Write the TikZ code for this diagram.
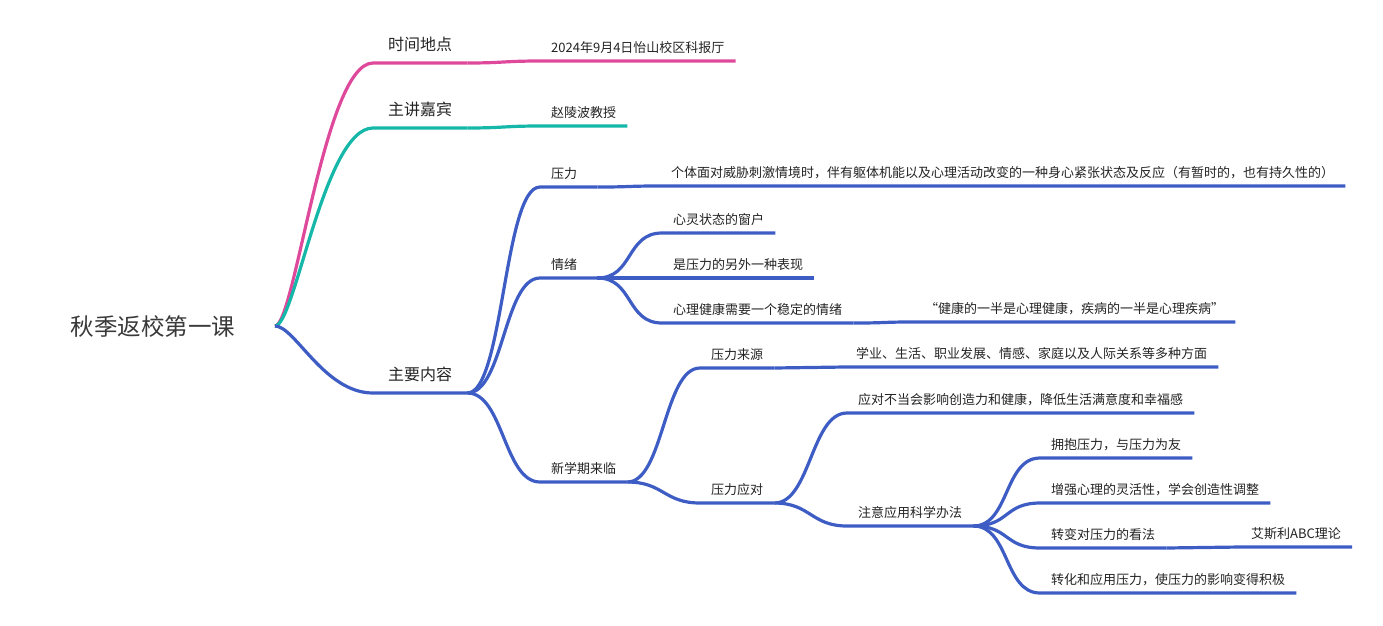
\documentclass[tikz,border=0pt]{standalone}
\usepackage{fontspec}
\newfontfamily\cjk{Noto Sans CJK SC}
\definecolor{pk}{RGB}{222,73,155}
\definecolor{tl}{RGB}{20,183,168}
\definecolor{bl}{RGB}{62,93,196}
\definecolor{txt}{RGB}{35,35,35}
\begin{document}
\begin{tikzpicture}[x=1pt,y=-1pt,
  every node/.style={text=txt,font=\cjk\fontsize{13}{15}\selectfont},
  rootnode/.style={font=\cjk\fontsize{23.5}{27}\selectfont,text=txt!90},
  big/.style={anchor=south west,inner xsep=15pt,inner ysep=9pt,text depth=3pt,font=\cjk\fontsize{16}{19}\selectfont},
  small/.style={anchor=south west,inner xsep=11pt,inner ysep=6pt,text depth=2.5pt},
  short/.style={small,text width=35pt},
  branch/.style={line width=3.2pt,line join=round}]
  \useasboundingbox (0,0) rectangle (1383,625);
  % root
  \node[rootnode] (root) at (153,327) {秋季返校第一课};
  \coordinate (r) at (275,326);
  % first level
  \node[big] (tjdd) at (373,63) {时间地点};
  \node[big] (zjjb) at (373,128) {主讲嘉宾};
  \node[big] (zynr) at (373,393) {主要内容};
  \node[small] (sj) at (540,61) {2024年9月4日怡山校区科报厅};
  \node[small] (zlb) at (540,126) {赵陵波教授};
  % main content
  \node[short] (yl) at (540,187) {压力};
  \node[small] (yldef) at (660,186) {个体面对威胁刺激情境时，伴有躯体机能以及心理活动改变的一种身心紧张状态及反应（有暂时的，也有持久性的）};
  \node[short] (qx) at (540,278) {情绪};
  \node[small] (qx1) at (662,233) {心灵状态的窗户};
  \node[small] (qx2) at (662,278) {是压力的另外一种表现};
  \node[small] (qx3) at (662,323) {心理健康需要一个稳定的情绪};
  \node[small] (qx3a) at (914,322) {“健康的一半是心理健康，疾病的一半是心理疾病”};
  \node[small] (xxq) at (540,482) {新学期来临};
  \node[small] (ylly) at (700,368) {压力来源};
  \node[small] (ylly1) at (845,367) {学业、生活、职业发展、情感、家庭以及人际关系等多种方面};
  \node[small] (yldd) at (700,503) {压力应对};
  \node[small] (yldd1) at (847,413) {应对不当会影响创造力和健康，降低生活满意度和幸福感};
  \node[small] (yldd2) at (847,526) {注意应用科学办法};
  \node[small] (ff1) at (1040,458) {拥抱压力，与压力为友};
  \node[small] (ff2) at (1040,503) {增强心理的灵活性，学会创造性调整};
  \node[small] (ff3) at (1040,548) {转变对压力的看法};
  \node[small] (ff3a) at (1240,547) {艾斯利ABC理论};
  \node[small] (ff4) at (1040,593) {转化和应用压力，使压力的影响变得积极};
  % branches
  \foreach \b/\c in {tjdd/pk,zjjb/tl,zynr/bl}
    \draw[branch,\c] (r) .. controls +(20,0) and +(-49,0) .. (\b.south west) -- (\b.south east);
  \draw[branch,pk] (tjdd.south east) .. controls +(36,0) and +(-36,0) .. (sj.south west) -- (sj.south east);
  \draw[branch,tl] (zjjb.south east) .. controls +(36,0) and +(-36,0) .. (zlb.south west) -- (zlb.south east);
  \foreach \a/\b in {zynr/yl,yl/yldef,zynr/qx,qx/qx1,qx/qx2,qx/qx3,qx3/qx3a,zynr/xxq,xxq/ylly,ylly/ylly1,xxq/yldd,
      yldd/yldd1,yldd/yldd2,yldd2/ff1,yldd2/ff2,yldd2/ff3,ff3/ff3a,yldd2/ff4}
    \draw[branch,bl] (\a.south east) .. controls +(36,0) and +(-36,0) .. (\b.south west) -- (\b.south east);
\end{tikzpicture}
\end{document}
